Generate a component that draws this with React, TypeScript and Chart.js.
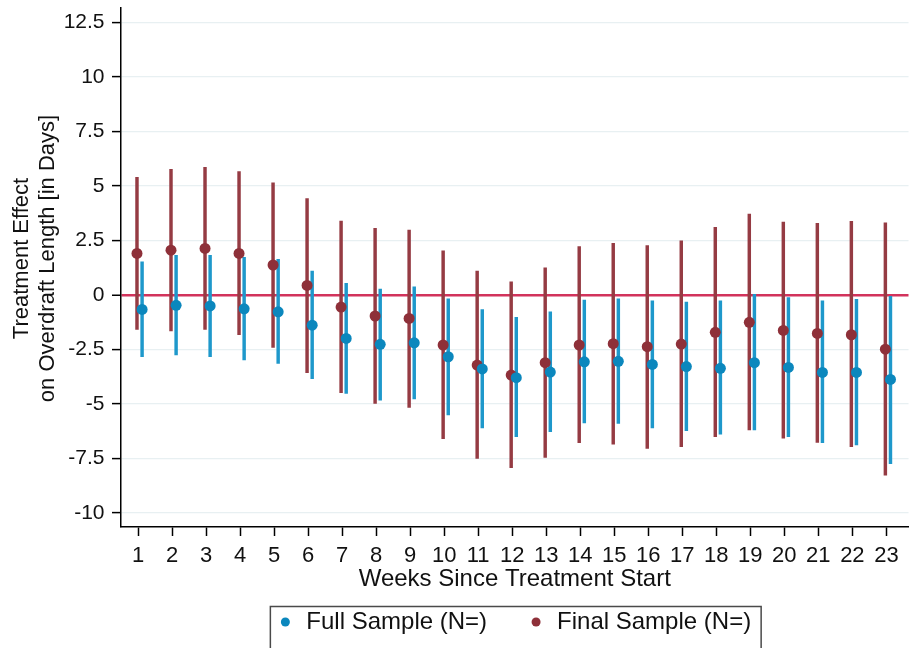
import React, { useEffect, useRef } from 'react';
import { Chart, registerables } from 'chart.js';

Chart.register(...registerables);

// ---- data ----
const weeks = [1, 2, 3, 4, 5, 6, 7, 8, 9, 10, 11, 12, 13, 14, 15, 16, 17, 18, 19, 20, 21, 22, 23];
const xTickLabels = ['1', '2', '3', '4', '5', '6', '7', '8', '9', '10', '11', '12', '13', '14', '15', '16', '17', '18', '19', '20', '21', '22', '23'];

const fullEst = [-0.66, -0.47, -0.5, -0.63, -0.77, -1.38, -1.99, -2.26, -2.19, -2.83, -3.39, -3.79, -3.53, -3.06, -3.04, -3.18, -3.28, -3.36, -3.1, -3.32, -3.55, -3.55, -3.87];
const fullLo = [-2.83, -2.75, -2.83, -2.98, -3.13, -3.84, -4.51, -4.82, -4.76, -5.5, -6.09, -6.5, -6.27, -5.86, -5.89, -6.1, -6.22, -6.38, -6.19, -6.5, -6.77, -6.88, -7.73];
const fullHi = [1.53, 1.82, 1.82, 1.73, 1.64, 1.1, 0.54, 0.28, 0.38, -0.17, -0.66, -1.02, -0.77, -0.23, -0.17, -0.26, -0.32, -0.26, 0.03, -0.12, -0.26, -0.2, 0.0];

const finalEst = [1.91, 2.06, 2.14, 1.91, 1.38, 0.44, -0.55, -0.96, -1.07, -2.29, -3.21, -3.67, -3.1, -2.29, -2.23, -2.37, -2.25, -1.71, -1.25, -1.62, -1.76, -1.82, -2.48];
const finalLo = [-1.57, -1.64, -1.57, -1.82, -2.4, -3.56, -4.48, -4.97, -5.15, -6.59, -7.49, -7.92, -7.45, -6.77, -6.84, -7.04, -6.96, -6.5, -6.19, -6.57, -6.76, -6.96, -8.26];
const finalHi = [5.4, 5.77, 5.86, 5.67, 5.15, 4.43, 3.39, 3.06, 2.98, 2.03, 1.1, 0.61, 1.25, 2.22, 2.37, 2.27, 2.49, 3.11, 3.72, 3.35, 3.29, 3.38, 3.32];

const yTickValues = [-10, -7.5, -5, -2.5, 0, 2.5, 5, 7.5, 10, 12.5];
const yTickLabels = ['-10', '-7.5', '-5', '-2.5', '0', '2.5', '5', '7.5', '10', '12.5'];

const fullLabel = 'Full Sample (N=)';
const finalLabel = 'Final Sample (N=)';
const xTitle = 'Weeks Since Treatment Start';
const yTitle = ['Treatment Effect', 'on Overdraft Length [in Days]'];

// ---- styles ----
const FONT = '"Liberation Sans", Arial, Helvetica, sans-serif';
const blueDot = '#0B87BD';
const blueLine = '#1E98CB';
const redDot = '#8E3039';
const redLine = '#953B43';
const zeroColor = '#D2335C';
const gridColor = '#E8F0F2';
const blueOffset = 0.12;
const redOffset = -0.03;

const annotPlugin = {
  id: 'boxLegendAndYTitle',
  afterDraw(chart: any) {
    const ctx = chart.ctx;
    const { left, right, top, bottom } = chart.chartArea;
    ctx.save();
    // y-axis title (two lines, rotated)
    ctx.font = `22px ${FONT}`;
    ctx.fillStyle = '#111';
    ctx.textAlign = 'center';
    ctx.textBaseline = 'middle';
    const yc = (top + bottom) / 2 - 9;
    yTitle.forEach((line, i) => {
      ctx.save();
      ctx.translate(22 + i * 26.4, yc);
      ctx.rotate(-Math.PI / 2);
      ctx.fillText(line, 0, 0);
      ctx.restore();
    });
    // boxed legend
    ctx.font = `24px ${FONT}`;
    const w1 = ctx.measureText(fullLabel).width;
    const w2 = ctx.measureText(finalLabel).width;
    const padL = 15, dotText = 21, gap = 49, padR = 10;
    const total = padL + dotText + w1 + gap + dotText + w2 + padR;
    const cx = (left + right) / 2 + 1;
    const boxLeft = cx - total / 2;
    const boxTop = 606.5;
    const yMid = 622;
    ctx.strokeStyle = '#4a4a4a';
    ctx.lineWidth = 1.5;
    ctx.strokeRect(boxLeft, boxTop, total, 60);
    const items = [
      { label: fullLabel, color: blueDot, w: w1 },
      { label: finalLabel, color: redDot, w: w2 },
    ];
    let x = boxLeft + padL;
    ctx.textBaseline = 'middle';
    ctx.textAlign = 'left';
    items.forEach((it) => {
      ctx.fillStyle = it.color;
      ctx.beginPath();
      ctx.arc(x, yMid, 4.5, 0, Math.PI * 2);
      ctx.fill();
      ctx.fillStyle = '#111';
      ctx.fillText(it.label, x + dotText, yMid);
      x = x + dotText + it.w + gap;
    });
    ctx.restore();
  },
};

export default function App() {
  const ref = useRef<HTMLCanvasElement>(null);

  useEffect(() => {
    if (!ref.current) return;
    const chart = new Chart(ref.current, {
      type: 'scatter',
      data: {
        datasets: [
          {
            type: 'bar',
            label: finalLabel + ' CI',
            data: weeks.map((w, i) => ({ x: w + redOffset, y: [finalLo[i], finalHi[i]] })) as any,
            backgroundColor: redLine,
            borderWidth: 0,
            barThickness: 2.8,
            grouped: false,
            order: 4,
          } as any,
          {
            type: 'bar',
            label: fullLabel + ' CI',
            data: weeks.map((w, i) => ({ x: w + blueOffset, y: [fullLo[i], fullHi[i]] })) as any,
            backgroundColor: blueLine,
            borderWidth: 0,
            barThickness: 2.8,
            grouped: false,
            order: 3,
          } as any,
          {
            type: 'scatter',
            label: finalLabel,
            data: weeks.map((w, i) => ({ x: w + redOffset, y: finalEst[i] })),
            pointRadius: 5.5,
            pointBackgroundColor: redDot,
            pointBorderWidth: 0,
            order: 2,
          },
          {
            type: 'scatter',
            label: fullLabel,
            data: weeks.map((w, i) => ({ x: w + blueOffset, y: fullEst[i] })),
            pointRadius: 5.5,
            pointBackgroundColor: blueDot,
            pointBorderWidth: 0,
            order: 1,
          },
        ],
      },
      options: {
        animation: false,
        responsive: false,
        devicePixelRatio: 1,
        layout: { padding: { left: 0, right: 0, top: 8, bottom: 0 } },
        plugins: {
          legend: { display: false },
          tooltip: { enabled: false },
        },
        scales: {
          x: {
            type: 'linear',
            min: 0.5,
            max: 23.65,
            offset: false,
            afterBuildTicks: (scale: any) => {
              scale.ticks = weeks.map((v) => ({ value: v }));
            },
            afterFit: (scale: any) => {
              scale.height = 121;
              scale.paddingLeft = 0;
              scale.paddingRight = 0;
            },
            ticks: {
              autoSkip: false,
              maxRotation: 0,
              padding: 7,
              color: '#111',
              font: { family: FONT, size: 22 },
              callback: (_v: any, i: number) => xTickLabels[i],
            },
            grid: {
              drawOnChartArea: false,
              drawTicks: true,
              tickLength: 9,
              tickColor: '#000',
              tickWidth: 1.5,
              offset: false,
            },
            border: { display: true, color: '#000', width: 1.5 },
            title: {
              display: true,
              text: xTitle,
              color: '#111',
              font: { family: FONT, size: 24 },
              padding: { top: 0, bottom: 54.6 },
            },
          },
          y: {
            type: 'linear',
            min: -10.64,
            max: 13.17,
            afterBuildTicks: (scale: any) => {
              scale.ticks = yTickValues.map((v) => ({ value: v }));
            },
            afterFit: (scale: any) => {
              scale.width = 121;
              scale.paddingTop = 0;
              scale.paddingBottom = 0;
            },
            ticks: {
              padding: 7.5,
              color: '#111',
              font: { family: FONT, size: 21 },
              callback: (_v: any, i: number) => yTickLabels[i],
            },
            grid: {
              color: (c: any) => (c.tick && c.tick.value === 0 ? zeroColor : gridColor),
              lineWidth: (c: any) => (c.tick && c.tick.value === 0 ? 2.5 : 1.2),
              drawTicks: true,
              tickLength: 9,
              tickColor: '#000',
              tickWidth: 1.5,
            },
            border: { display: true, color: '#000', width: 1.5 },
            title: { display: false },
          },
        },
      } as any,
      plugins: [annotPlugin],
    });
    return () => chart.destroy();
  }, []);

  return (
    <div style={{ position: 'absolute', left: 0, top: 0, width: 914, height: 648, background: '#fff' }}>
      <canvas ref={ref} width={914} height={648} style={{ display: 'block' }} />
    </div>
  );
}
